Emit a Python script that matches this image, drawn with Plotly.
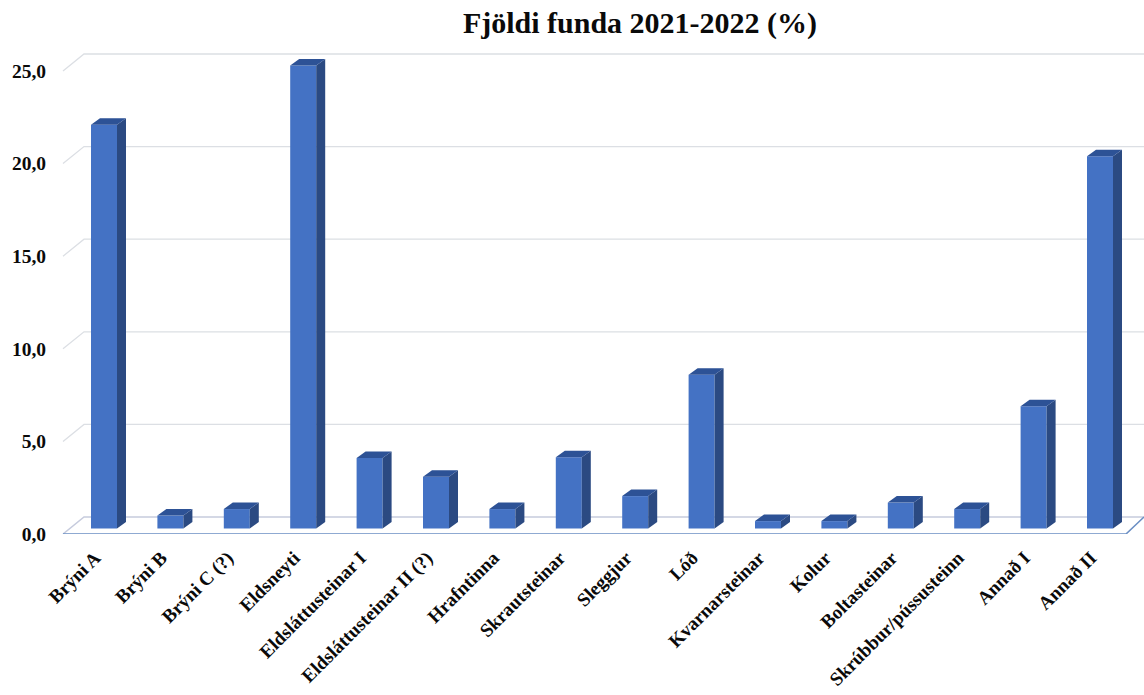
import plotly.graph_objects as go

categories = ["Brýni A", "Brýni B", "Brýni C (?)", "Eldsneyti", "Eldsláttusteinar I",
              "Eldsláttusteinar II (?)", "Hrafntinna", "Skrautsteinar", "Sleggjur", "Lóð",
              "Kvarnarsteinar", "Kolur", "Boltasteinar", "Skrúbbur/pússusteinn", "Annað I", "Annað II"]
values = [21.8, 0.7, 1.05, 25.0, 3.8, 2.8, 1.05, 3.85, 1.75, 8.3, 0.4, 0.4, 1.4, 1.05, 6.6, 20.1]
y_ticks = [0, 5, 10, 15, 20, 25]
y_labels = ["0,0", "5,0", "10,0", "15,0", "20,0", "25,0"]

FONT = "Liberation Serif"
W, H = 1144, 695
L, T, B = 47, 40, 161
PX_X = 66.4
PX_Y = 18.52
X0_PX = 104.0
Y0_PX = 534.0

def xpx(p):
    return (p - X0_PX) / PX_X

def ypx(n):
    return n / PX_Y

bar_w = 26 / PX_X
base = ypx(5.5)
dx = 9 / PX_X
dy = ypx(6.5)
label_shift = 9 / PX_X
idx = list(range(len(categories)))

side_x, side_y, top_x, top_y = [], [], [], []
for i, v in zip(idx, values):
    xl, xr = i - bar_w / 2, i + bar_w / 2
    side_x += [xr, xr + dx, xr + dx, xr, xr, None]
    side_y += [base, base + dy, base + v + dy, base + v, base, None]
    top_x += [xl, xl + dx, xr + dx, xr, xl, None]
    top_y += [base + v, base + v + dy, base + v + dy, base + v, base + v, None]

fig = go.Figure()
fig.add_bar(x=idx, y=values, base=base, width=bar_w, marker=dict(color="#4472c4", line=dict(width=0)),
            customdata=categories, hovertemplate="%{customdata}: %{y}<extra></extra>")
fig.add_scatter(x=side_x, y=side_y, mode="lines", fill="toself", fillcolor="#2b4a82",
                line=dict(width=0, color="#2b4a82"), hoverinfo="skip")
fig.add_scatter(x=top_x, y=top_y, mode="lines", fill="toself", fillcolor="#2d5296",
                line=dict(width=0, color="#2d5296"), hoverinfo="skip")

back = ypx(17)
x_fl, x_bl = xpx(63), xpx(84)
x_fr, x_br = xpx(1126), xpx(1144)
shapes = []
for t in y_ticks[1:]:
    shapes.append(dict(type="path", layer="below", xref="x", yref="y",
                       path=f"M{x_fl},{t} L{x_bl},{t + back} L{x_br},{t + back}",
                       line=dict(color="#dcdfe4", width=1.3)))
shapes.append(dict(type="path", layer="below", xref="x", yref="y",
                   path=f"M{x_fl},0 L{x_bl},{back} L{x_br},{back}",
                   line=dict(color="#c6cbdd", width=1.5)))
shapes.append(dict(type="path", layer="below", xref="x", yref="y",
                   path=f"M{x_fl},0 L{x_fr},0 L{x_br},{back}",
                   line=dict(color="#6b8fc4", width=1.6)))

fig.update_layout(
    width=W, height=H, margin=dict(l=L, r=0, t=T, b=B, pad=0, autoexpand=False),
    paper_bgcolor="white", plot_bgcolor="white", showlegend=False, shapes=shapes,
    title=dict(text="<b>Fjöldi funda 2021-2022 (%)</b>", x=640 / W, xanchor="center", xref="container",
               y=1 - 22 / H, yanchor="middle", yref="container",
               font=dict(family=FONT, size=30, color="#0a0a0a")),
    xaxis=dict(range=[xpx(L), xpx(W)], tickmode="array", tickvals=[i - label_shift for i in idx],
               ticktext=[f"<b>{c}</b>" for c in categories], tickangle=-45, ticklabelstandoff=8,
               tickfont=dict(family=FONT, size=19, color="#0a0a0a"),
               showgrid=False, zeroline=False, showline=False, ticks=""),
    yaxis=dict(range=[0, (Y0_PX - T) / PX_Y], tickmode="array", tickvals=y_ticks,
               ticktext=[f"<b>{s}</b>" for s in y_labels],
               tickfont=dict(family=FONT, size=19.5, color="#0a0a0a"),
               showgrid=False, zeroline=False, showline=False, ticks=""),
)
fig.write_html("out.html", config=dict(displayModeBar=False),
               post_script="document.body.style.margin='0';document.documentElement.style.overflow='hidden';")
